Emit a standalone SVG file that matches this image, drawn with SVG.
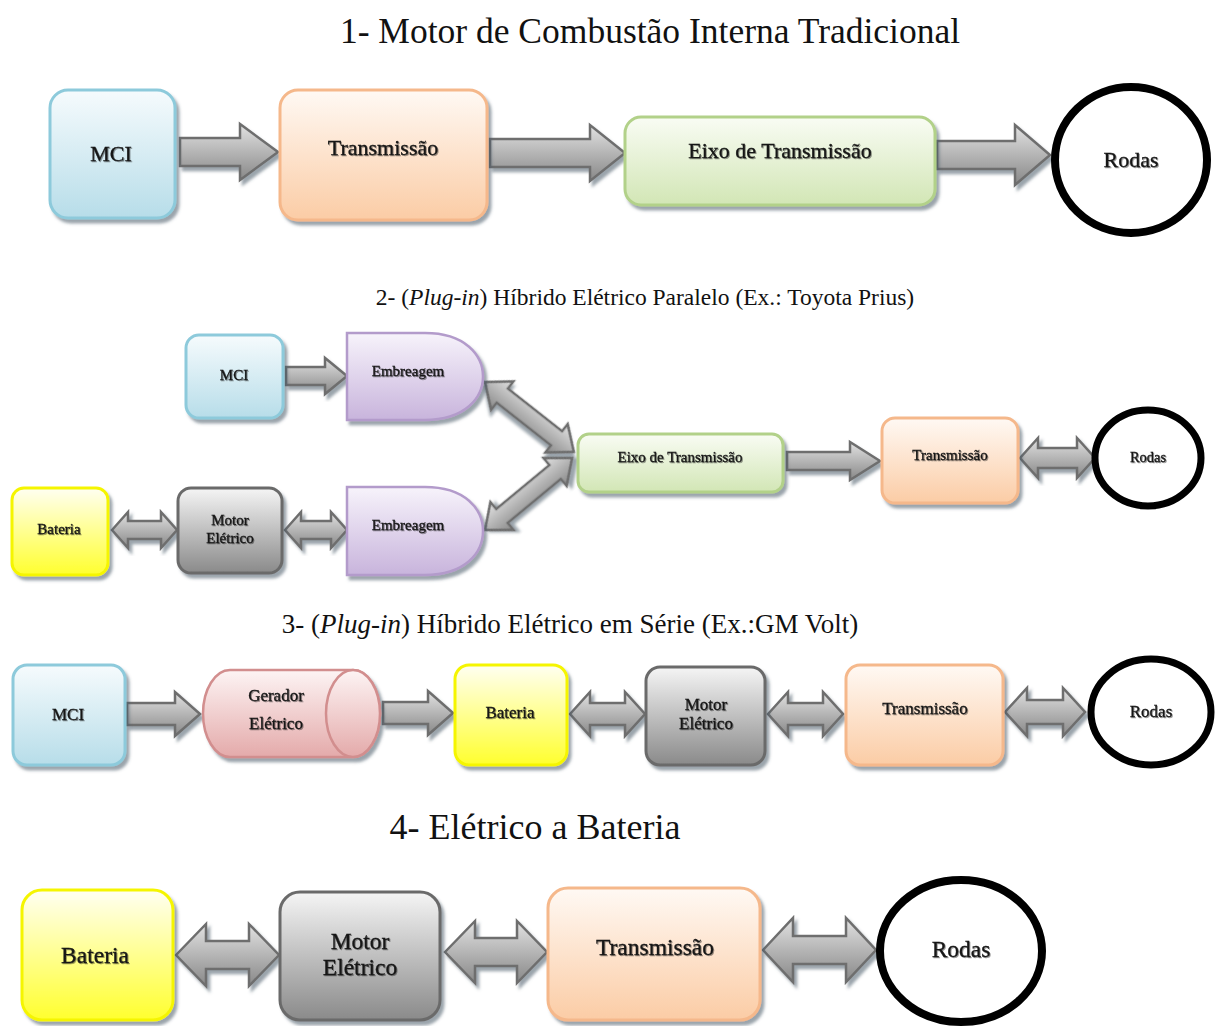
<svg xmlns="http://www.w3.org/2000/svg" width="1221" height="1026" viewBox="0 0 1221 1026">
<defs>
<linearGradient id="gBlue" x1="0" y1="0" x2="0" y2="1"><stop offset="0" stop-color="#f6fbfd"/><stop offset="1" stop-color="#b7dde9"/></linearGradient>
<linearGradient id="gOrange" x1="0" y1="0" x2="0" y2="1"><stop offset="0" stop-color="#fff9f4"/><stop offset="1" stop-color="#fbcca5"/></linearGradient>
<linearGradient id="gGreen" x1="0" y1="0" x2="0" y2="1"><stop offset="0" stop-color="#f9fcf4"/><stop offset="1" stop-color="#d2e6b5"/></linearGradient>
<linearGradient id="gYellow" x1="0" y1="0" x2="0" y2="1"><stop offset="0" stop-color="#fffff2"/><stop offset="1" stop-color="#ffff2e"/></linearGradient>
<linearGradient id="gGray" x1="0" y1="0" x2="0" y2="1"><stop offset="0" stop-color="#f5f5f5"/><stop offset="1" stop-color="#8a8a8a"/></linearGradient>
<linearGradient id="gPurple" x1="0" y1="0" x2="0" y2="1"><stop offset="0" stop-color="#f7f3fb"/><stop offset="1" stop-color="#c8b4dc"/></linearGradient>
<linearGradient id="gPink" x1="0" y1="0" x2="0" y2="1"><stop offset="0" stop-color="#fdf4f4"/><stop offset="1" stop-color="#e4aaaa"/></linearGradient>
<linearGradient id="gArrow" x1="0" y1="0" x2="0" y2="1"><stop offset="0" stop-color="#e2e2e2"/><stop offset="0.5" stop-color="#b5b5b5"/><stop offset="1" stop-color="#888888"/></linearGradient>
<filter id="sh" x="-10%" y="-10%" width="125%" height="130%"><feDropShadow dx="3" dy="4" stdDeviation="1.5" flood-color="#4a5a66" flood-opacity="0.55"/></filter>
<filter id="tsh" x="-5%" y="-20%" width="115%" height="150%"><feDropShadow dx="1" dy="1" stdDeviation="0.7" flood-color="#000" flood-opacity="0.4"/></filter>
<style>
.title{font-family:"Liberation Serif","Times New Roman",serif;fill:#111;text-anchor:middle}
.lbl{font-family:"Liberation Serif","Times New Roman",serif;fill:#151515;stroke:#151515;stroke-width:0.3;text-anchor:middle;dominant-baseline:middle}
.b{filter:url(#tsh)}
.blue{fill:url(#gBlue);stroke:#8dcadb;stroke-width:3}
.orange{fill:url(#gOrange);stroke:#f5b88b;stroke-width:3}
.green{fill:url(#gGreen);stroke:#b2d189;stroke-width:3}
.yellow{fill:url(#gYellow);stroke:#f5f500;stroke-width:3}
.gray{fill:url(#gGray);stroke:#6b6b6b;stroke-width:3}
.purple{fill:url(#gPurple);stroke:#b39bcb;stroke-width:2.5}
.pink{fill:url(#gPink);stroke:#d28e8e;stroke-width:2.5}
.node{filter:url(#sh)}
.wheel{fill:#fff;stroke:#000}
.arr{fill:url(#gArrow);stroke:#6e6e6e;stroke-width:2.5;stroke-linejoin:miter;filter:url(#sh)}
</style>
</defs>
<rect width="1221" height="1026" fill="#fff"/>

<!-- Titles -->
<text class="title" x="650" y="43" font-size="35.5">1- Motor de Combustão Interna Tradicional</text>
<text class="title" x="645" y="305" font-size="23.5">2- (<tspan font-style="italic">Plug</tspan>-<tspan font-style="italic">in</tspan>) Híbrido Elétrico Paralelo (Ex.: Toyota Prius)</text>
<text class="title" x="570" y="633" font-size="27">3- (<tspan font-style="italic">Plug</tspan>-<tspan font-style="italic">in</tspan>) Híbrido Elétrico em Série (Ex.:GM Volt)</text>
<text class="title" x="535" y="839" font-size="36">4- Elétrico a Bateria</text>

<!-- Connectors -->
<g id="connectors">
<path class="arr" d="M180,138 L240,138 L240,124 L278,152 L240,180 L240,166 L180,166 Z"/>
<path class="arr" d="M490,139 L590,139 L590,125 L625,153 L590,181 L590,167 L490,167 Z"/>
<path class="arr" d="M937,141 L1015,141 L1015,125 L1050,155 L1015,185 L1015,169 L937,169 Z"/>
<path class="arr" d="M286,367 L325,367 L325,358 L347,376 L325,394 L325,385 L286,385 Z"/>
<path class="arr" d="M112,530 L128,512 L128,521 L161,521 L161,512 L177,530 L161,548 L161,539 L128,539 L128,548 Z"/>
<path class="arr" d="M285,530 L301,512 L301,521 L331,521 L331,512 L347,530 L331,548 L331,539 L301,539 L301,548 Z"/>
<path class="arr" transform="translate(485,382) rotate(38.2)" d="M0,0 L22,-18 L22,-9 L91,-9 L91,-18 L113,0 L91,18 L91,9 L22,9 L22,18 Z"/>
<path class="arr" transform="translate(485,530) rotate(-39.6)" d="M0,0 L22,-18 L22,-9 L91,-9 L91,-18 L113,0 L91,18 L91,9 L22,9 L22,18 Z"/>
<path class="arr" d="M787,452 L850,452 L850,442 L880,461 L850,480 L850,470 L787,470 Z"/>
<path class="arr" d="M1020,458 L1038,438 L1038,448 L1077,448 L1077,438 L1095,458 L1077,478 L1077,468 L1038,468 L1038,478 Z"/>
<path class="arr" d="M127,703 L175,703 L175,692 L200,714 L175,736 L175,725 L127,725 Z"/>
<path class="arr" d="M383,702 L428,702 L428,691 L453,713 L428,735 L428,724 L383,724 Z"/>
<path class="arr" d="M570,714 L590,692 L590,703 L625,703 L625,692 L645,714 L625,736 L625,725 L590,725 L590,736 Z"/>
<path class="arr" d="M768,714 L788,692 L788,703 L823,703 L823,692 L843,714 L823,736 L823,725 L788,725 L788,736 Z"/>
<path class="arr" d="M1005,712 L1027,688 L1027,700 L1063,700 L1063,688 L1085,712 L1063,736 L1063,724 L1027,724 L1027,736 Z"/>
<path class="arr" d="M176,955 L206,924 L206,941 L249,941 L249,924 L279,955 L249,986 L249,969 L206,969 L206,986 Z"/>
<path class="arr" d="M445,952 L475,921 L475,938 L517,938 L517,921 L547,952 L517,983 L517,966 L475,966 L475,983 Z"/>
<path class="arr" d="M763,950 L793,918 L793,936 L846,936 L846,918 L876,950 L846,982 L846,964 L793,964 L793,982 Z"/>
</g>

<!-- Section 1 nodes -->
<g id="s1-mci" class="node"><rect class="blue" x="50" y="90" width="125" height="128" rx="18"/><text class="lbl b" x="111" y="156" font-size="22">MCI</text></g>
<g id="s1-transmissao" class="node"><rect class="orange" x="280" y="90" width="207" height="130" rx="18"/><text class="lbl b" x="383" y="150" font-size="22">Transmissão</text></g>
<g id="s1-eixo" class="node"><rect class="green" x="625" y="117" width="310" height="88" rx="16"/><text class="lbl b" x="780" y="153" font-size="22">Eixo de Transmissão</text></g>
<g id="s1-rodas"><ellipse class="wheel" cx="1131" cy="160" rx="76" ry="73" stroke-width="8"/><text class="lbl b" x="1131" y="162" font-size="22">Rodas</text></g>

<!-- Section 2 nodes -->
<g id="s2-mci" class="node"><rect class="blue" x="186" y="335" width="97" height="83" rx="13"/><text class="lbl b" x="234" y="377" font-size="15">MCI</text></g>
<g id="s2-embreagem1" class="node"><path class="purple" d="M347,333 H425 C465,333 483,355 483,376.5 C483,398 465,420 425,420 H347 Z"/><text class="lbl b" x="408" y="373" font-size="15">Embreagem</text></g>
<g id="s2-bateria" class="node"><rect class="yellow" x="12" y="488" width="96" height="87" rx="12"/><text class="lbl b" x="59" y="531" font-size="15">Bateria</text></g>
<g id="s2-motor" class="node"><rect class="gray" x="178" y="488" width="104" height="85" rx="13"/><text class="lbl b" x="230" y="522" font-size="15">Motor</text><text class="lbl b" x="230" y="540" font-size="15">Elétrico</text></g>
<g id="s2-embreagem2" class="node"><path class="purple" d="M347,487 H425 C465,487 483,509 483,531 C483,553 465,575 425,575 H347 Z"/><text class="lbl b" x="408" y="527" font-size="15">Embreagem</text></g>
<g id="s2-eixo" class="node"><rect class="green" x="578" y="434" width="205" height="58" rx="11"/><text class="lbl b" x="680" y="459" font-size="15">Eixo de Transmissão</text></g>
<g id="s2-transmissao" class="node"><rect class="orange" x="882" y="418" width="136" height="85" rx="13"/><text class="lbl b" x="950" y="457" font-size="15">Transmissão</text></g>
<g id="s2-rodas"><ellipse class="wheel" cx="1148" cy="458" rx="53" ry="48" stroke-width="7"/><text class="lbl b" x="1148" y="459" font-size="14.5">Rodas</text></g>

<!-- Section 3 nodes -->
<g id="s3-mci" class="node"><rect class="blue" x="13" y="665" width="112" height="100" rx="14"/><text class="lbl b" x="68" y="716" font-size="17">MCI</text></g>
<g id="s3-gerador" class="node"><path class="pink" d="M230,670 H353 A27,43.5 0 0 1 353,757 H230 A27,43.5 0 0 1 230,670 Z"/><ellipse class="pink" cx="353" cy="713.5" rx="27" ry="43.5"/><text class="lbl b" x="276" y="697" font-size="17">Gerador</text><text class="lbl b" x="276" y="725" font-size="17">Elétrico</text></g>
<g id="s3-bateria" class="node"><rect class="yellow" x="455" y="665" width="112" height="100" rx="14"/><text class="lbl b" x="510" y="714" font-size="17">Bateria</text></g>
<g id="s3-motor" class="node"><rect class="gray" x="646" y="667" width="119" height="98" rx="14"/><text class="lbl b" x="706" y="706" font-size="17">Motor</text><text class="lbl b" x="706" y="725" font-size="17">Elétrico</text></g>
<g id="s3-transmissao" class="node"><rect class="orange" x="846" y="665" width="157" height="100" rx="14"/><text class="lbl b" x="925" y="710" font-size="17">Transmissão</text></g>
<g id="s3-rodas"><ellipse class="wheel" cx="1151" cy="712" rx="60" ry="53" stroke-width="7"/><text class="lbl b" x="1151" y="713" font-size="17">Rodas</text></g>

<!-- Section 4 nodes -->
<g id="s4-bateria" class="node"><rect class="yellow" x="22" y="890" width="151" height="130" rx="20"/><text class="lbl b" x="95" y="958" font-size="23.5">Bateria</text></g>
<g id="s4-motor" class="node"><rect class="gray" x="280" y="892" width="160" height="128" rx="20"/><text class="lbl b" x="360" y="944" font-size="23.5">Motor</text><text class="lbl b" x="360" y="970" font-size="23.5">Elétrico</text></g>
<g id="s4-transmissao" class="node"><rect class="orange" x="548" y="888" width="212" height="132" rx="20"/><text class="lbl b" x="655" y="950" font-size="23.5">Transmissão</text></g>
<g id="s4-rodas"><ellipse class="wheel" cx="961" cy="951" rx="81" ry="71" stroke-width="8"/><text class="lbl b" x="961" y="952" font-size="23.5">Rodas</text></g>
</svg>
